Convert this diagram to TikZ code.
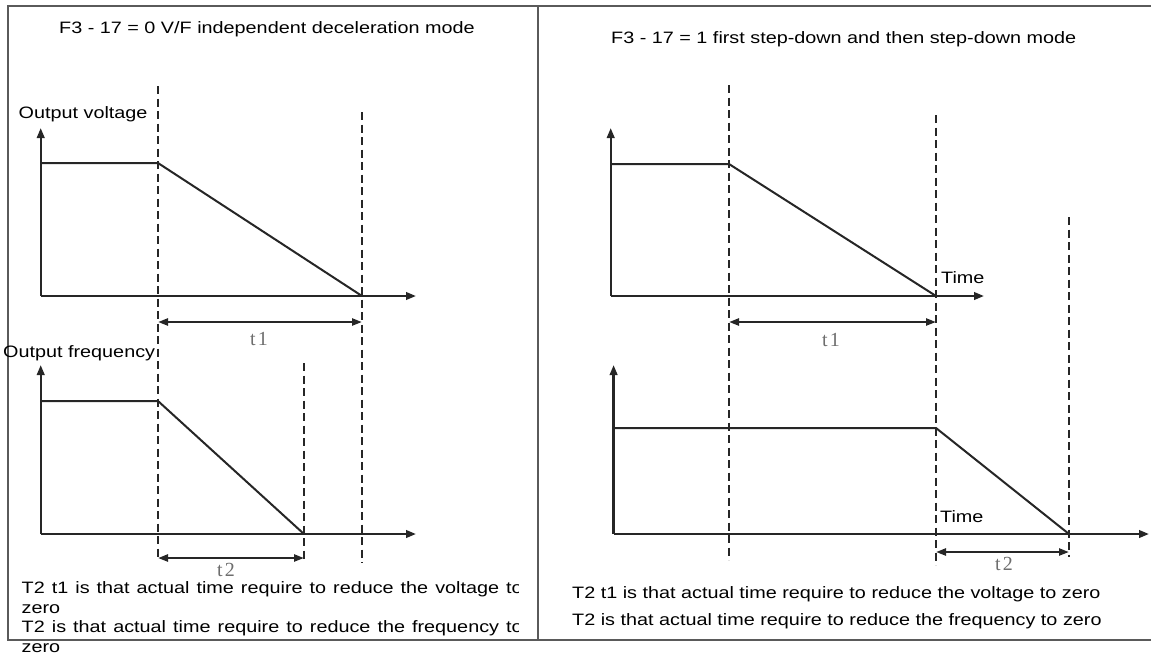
\documentclass[tikz,border=0pt]{standalone}
\usepackage{fontspec}
\setmainfont{Liberation Sans}[FakeStretch=1.2]
\newfontfamily\tfont{Liberation Serif}
\usetikzlibrary{arrows.meta}
\definecolor{frame}{HTML}{5A5A5A}
\definecolor{ink}{HTML}{262626}
\definecolor{tgray}{HTML}{6E6E6E}
\tikzset{
  axis/.style={ink,line width=2.3pt,-{Triangle[length=10pt,width=7.5pt]}},
  curve/.style={ink,line width=2pt,line join=round},
  guide/.style={ink,line width=1.6pt,dash pattern=on 8pt off 4.5pt},
  span/.style={ink,line width=2.3pt,{Triangle[length=10pt,width=7pt]}-{Triangle[length=10pt,width=7pt]}},
  txt/.style={inner sep=0pt,anchor=base west,font=\fontsize{16.5}{20}\selectfont},
  tlab/.style={tgray,inner sep=0pt,font=\tfont\fontsize{20}{20}\selectfont}
}
\begin{document}
\begin{tikzpicture}[x=1pt,y=-1pt]
\useasboundingbox (0,0) rectangle (1151,657);
% frame
\draw[frame,line width=2pt] (1151,5.5)--(8,5.5)--(8,639.5)--(1151,639.5);\draw[frame,line width=2pt] (538,5.5)--(538,639.5);
\node[txt] (ltitle) at (59,33) {F3 - 17 = 0 V/F independent deceleration mode};
\node[txt] (rtitle) at (611,43) {F3 - 17 = 1 first step-down and then step-down mode};
% left: voltage
\coordinate (lvo) at (40.7,296);\coordinate (lvy) at (40.7,128);\coordinate (lvx) at (416,296);
\coordinate (lva) at (158,163);\coordinate (lvb) at (362,296);
\draw[axis] (lvo)--(lvy);\draw[axis] (lvo)--(lvx);
\draw[curve] (40.7,163)--(lva)--(lvb);
\node[txt] (lvlab) at (18.5,118) {Output voltage};
% left: frequency
\coordinate (lfo) at (40.7,534);\coordinate (lfy) at (40.7,365);\coordinate (lfx) at (416,534);
\coordinate (lfa) at (158,401);\coordinate (lfb) at (304,534);
\draw[axis] (lfo)--(lfy);\draw[axis] (lfo)--(lfx);
\draw[curve] (40.7,401)--(lfa)--(lfb);
\node[txt] (lflab) at (3,357) {Output frequency};
% left: guides and spans
\draw[guide] (158,86)--(158,560);\draw[guide] (362,112)--(362,563);\draw[guide] (304,363)--(304,562);
\coordinate (lt1a) at (158,322);\coordinate (lt1b) at (362,322);\draw[span] (lt1a)--(lt1b);
\coordinate (lt2a) at (158,558);\coordinate (lt2b) at (304,558);\draw[span] (lt2a)--(lt2b);
\node[tlab] (lt1) at (259,339) {t\hspace{2pt}1};\node[tlab] (lt2) at (226,570) {t\hspace{2pt}2};
% left: note
\begin{scope}
\clip (0,0) rectangle (518,657);
\node[txt] (lnote1) at (21.5,593) {\makebox[501pt][s]{T2 t1 is that actual time require to reduce the voltage to}};
\node[txt] (lnote3) at (21.5,632) {\makebox[501pt][s]{T2 is that actual time require to reduce the frequency to}};
\end{scope}
\node[txt] (lnote2) at (21.5,613) {zero};\node[txt] (lnote4) at (21.5,652) {zero};
% right: voltage
\coordinate (rvo) at (610.7,296);\coordinate (rvy) at (610.7,128);\coordinate (rvx) at (984,296);
\coordinate (rva) at (729,164);\coordinate (rvb) at (936,296);
\draw[axis] (rvo)--(rvy);\draw[axis] (rvo)--(rvx);
\draw[curve] (610.7,164)--(rva)--(rvb);
\node[txt] (rvtime) at (941,283) {Time};
% right: frequency
\coordinate (rfo) at (613.6,534);\coordinate (rfy) at (613.6,365);\coordinate (rfx) at (1149,534);
\coordinate (rfa) at (936,428);\coordinate (rfb) at (1069,534);
\draw[axis] (rfo)--(rfy);\draw[axis] (rfo)--(rfx);
\draw[curve] (613.6,428)--(rfa)--(rfb);
\node[txt] (rftime) at (940,522) {Time};
% right: guides and spans
\draw[guide] (729,85)--(729,560);\draw[guide] (936,115)--(936,565);\draw[guide] (1069,217)--(1069,557);
\coordinate (rt1a) at (729,322);\coordinate (rt1b) at (936,322);\draw[span] (rt1a)--(rt1b);
\coordinate (rt2a) at (936,552);\coordinate (rt2b) at (1069,552);\draw[span] (rt2a)--(rt2b);
\node[tlab] (rt1) at (831,340) {t\hspace{2pt}1};\node[tlab] (rt2) at (1004,564) {t\hspace{2pt}2};
% right: note
\node[txt] (rnote1) at (572,598) {T2 t1 is that actual time require to reduce the voltage to zero};
\node[txt] (rnote2) at (572,625) {T2 is that actual time require to reduce the frequency to zero};
\end{tikzpicture}
\end{document}
